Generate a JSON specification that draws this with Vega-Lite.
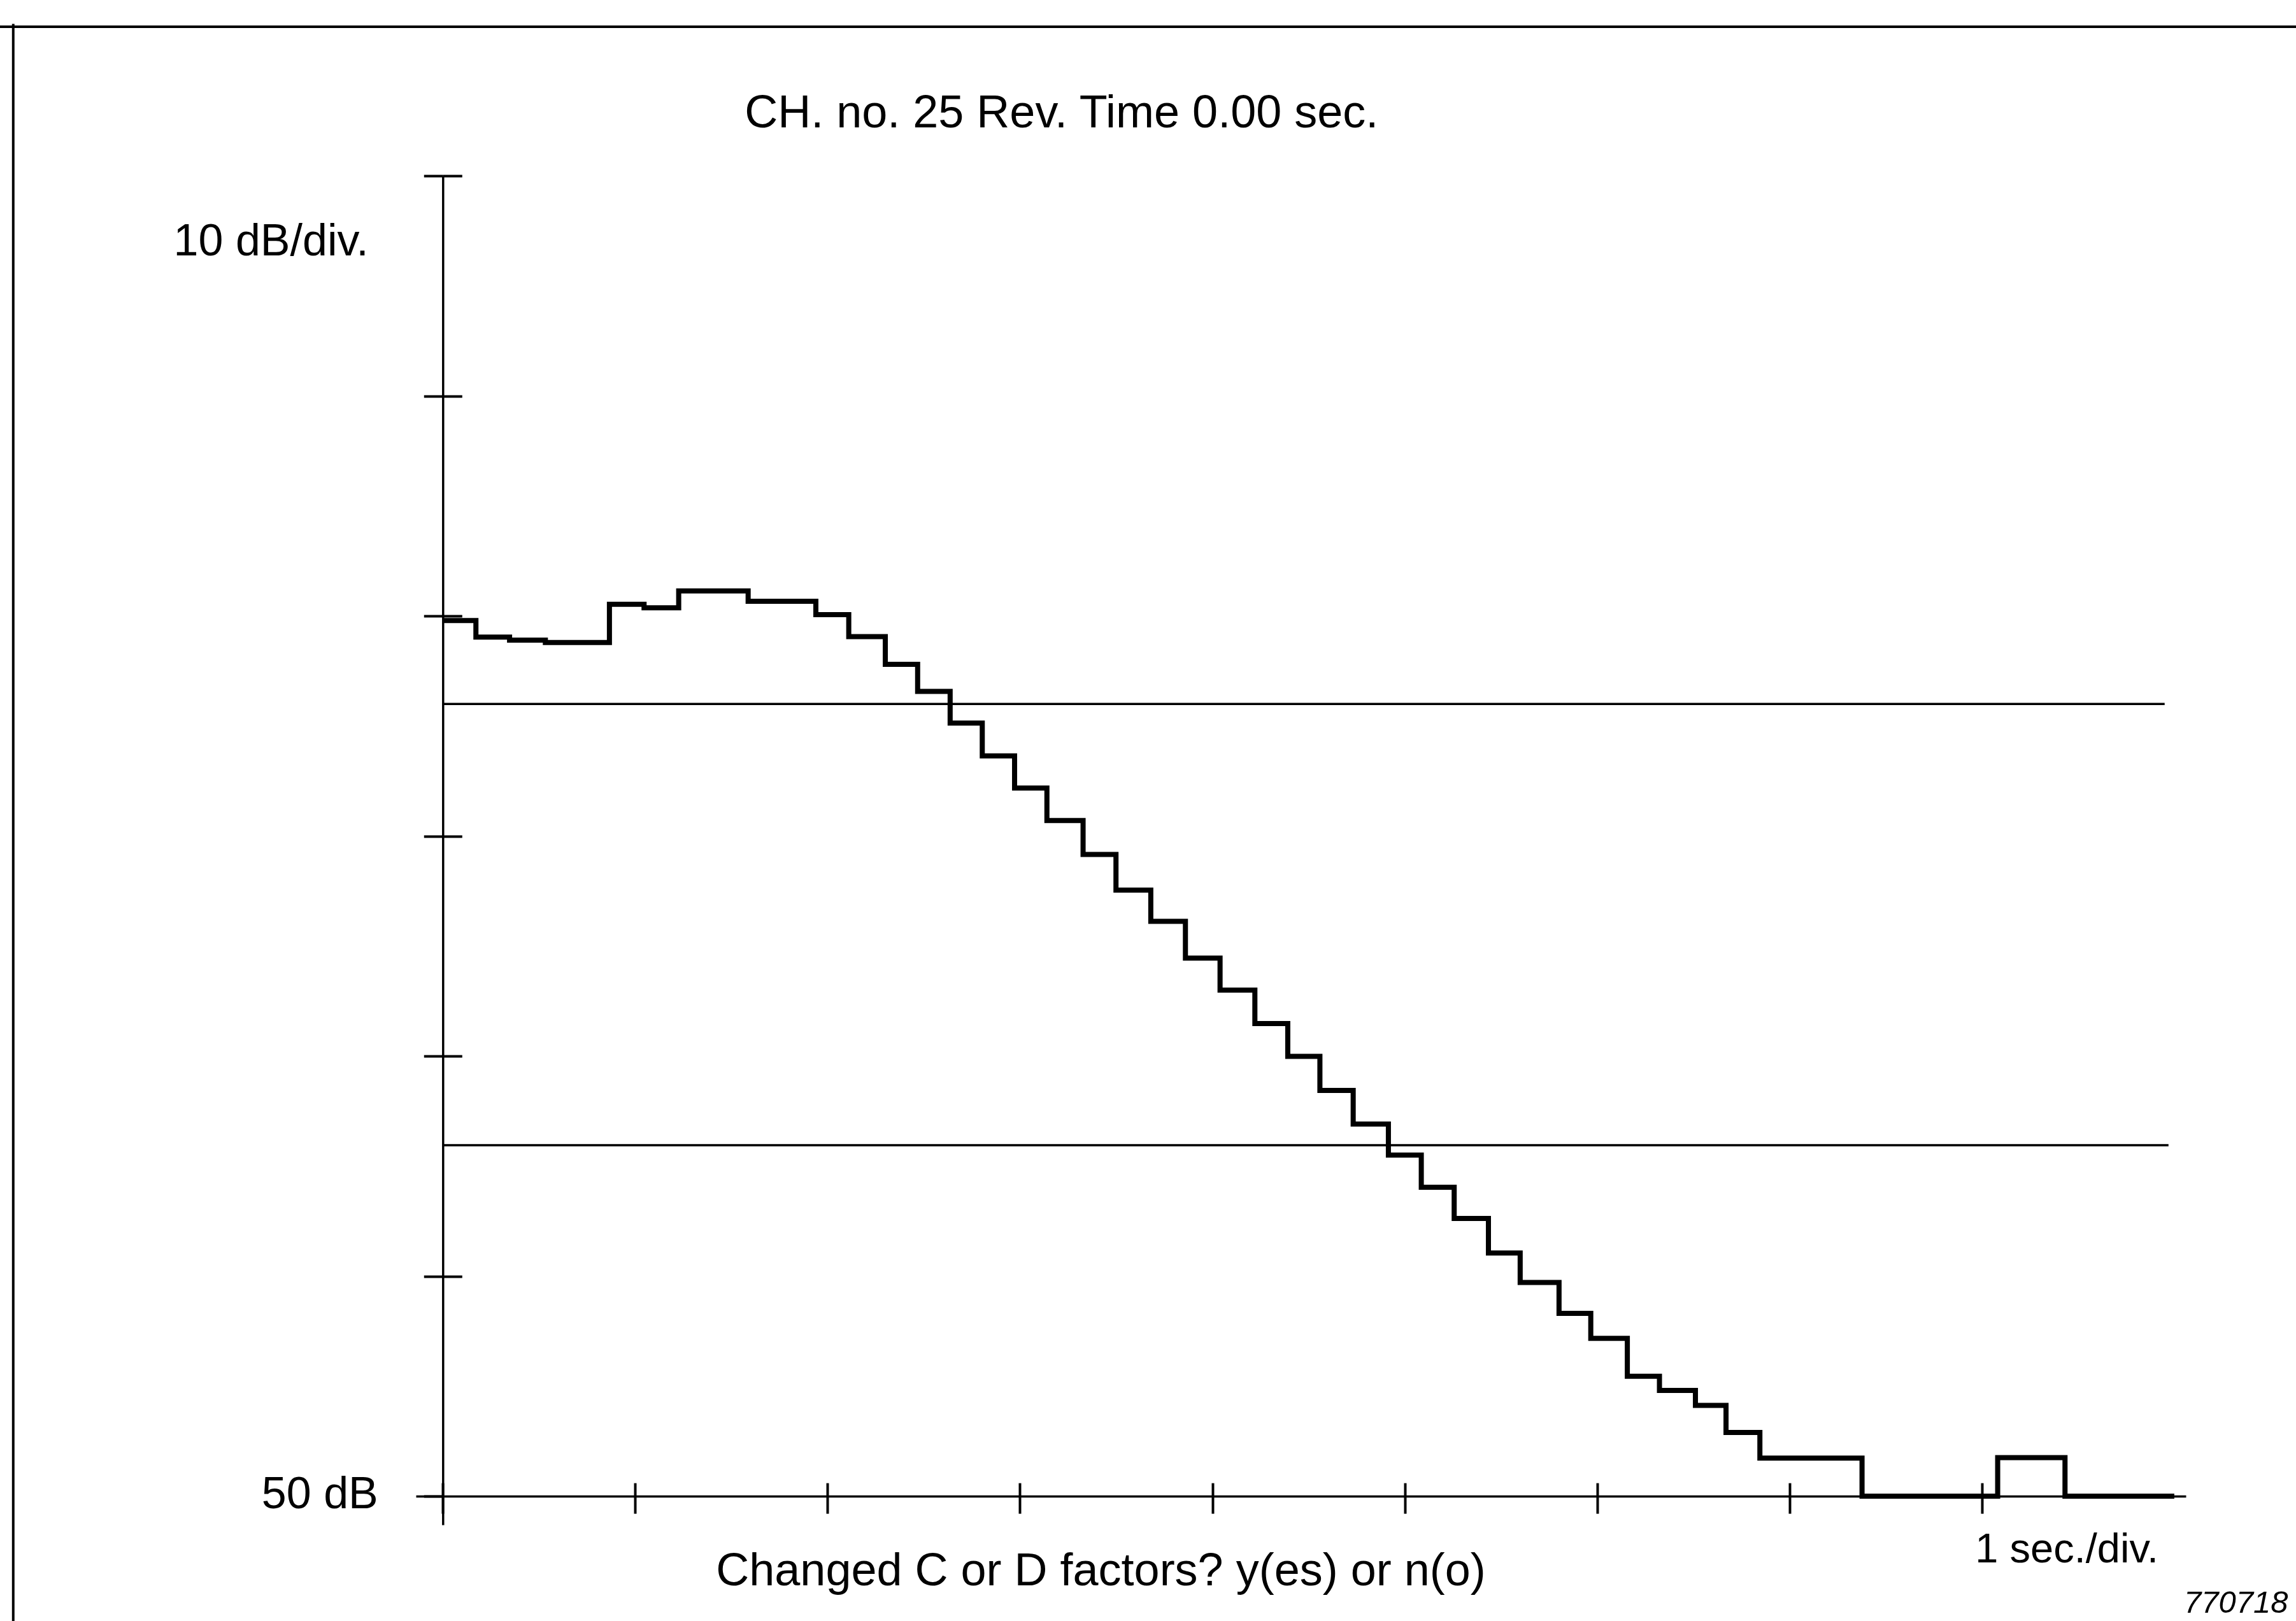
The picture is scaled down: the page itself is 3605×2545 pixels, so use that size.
{
  "$schema": "https://vega.github.io/schema/vega-lite/v6.json",
  "width": 2779,
  "height": 2118,
  "autosize": {"type": "none"},
  "padding": {"left": 653, "top": 276, "right": 173, "bottom": 151},
  "background": "white",
  "config": {"view": {"stroke": null}, "font": "Liberation Sans"},
  "resolve": {"axis": {"x": "independent", "y": "independent"}},
  "encoding": {
    "x": {"field": "t", "type": "quantitative", "scale": {"domain": [-0.14, 9.06], "nice": false, "zero": false}, "axis": null},
    "y": {"field": "L", "type": "quantitative", "scale": {"domain": [-1.3, 60], "nice": false, "zero": false}, "axis": null}
  },
  "layer": [
    {
      "data": {"values": [
        {"t": -2.31, "t2": 9.65, "L": 66.77, "L2": 66.77},
        {"t": -2.233, "t2": -2.233, "L": 66.9, "L2": -5.8}
      ]},
      "mark": {"type": "rule", "color": "black", "strokeWidth": 4},
      "encoding": {"x2": {"field": "t2"}, "y2": {"field": "L2"}}
    },
    {
      "data": {"values": [
        {"t": 0, "t2": 8.95, "L": 36.0},
        {"t": 0, "t2": 8.97, "L": 15.95}
      ]},
      "mark": {"type": "rule", "color": "black", "strokeWidth": 3.5},
      "encoding": {
        "x": {
          "field": "t", "type": "quantitative",
          "scale": {"domain": [-0.14, 9.06], "nice": false, "zero": false},
          "axis": {
            "orient": "bottom", "offset": -44.9, "values": [0, 1, 2, 3, 4, 5, 6, 7, 8],
            "grid": false, "domain": false, "labels": false, "title": null,
            "tickColor": "black", "tickSize": -21, "tickWidth": 4
          }
        },
        "y": {
          "field": "L", "type": "quantitative",
          "scale": {"domain": [-1.3, 60], "nice": false, "zero": false},
          "axis": {
            "orient": "left", "offset": -42.3, "values": [10, 20, 30, 40, 50, 60],
            "grid": false, "domain": false, "labels": false, "title": null,
            "tickColor": "black", "tickSize": -30, "tickWidth": 4
          }
        },
        "x2": {"field": "t2"}
      }
    },
    {
      "data": {"values": [
        {"t": 0, "L": 39.79},
        {"t": 0.172, "L": 39.04},
        {"t": 0.347, "L": 38.9},
        {"t": 0.533, "L": 38.79},
        {"t": 0.866, "L": 40.53},
        {"t": 1.046, "L": 40.37},
        {"t": 1.226, "L": 41.14},
        {"t": 1.587, "L": 40.67},
        {"t": 1.939, "L": 40.06},
        {"t": 2.11, "L": 39.06},
        {"t": 2.3, "L": 37.8},
        {"t": 2.468, "L": 36.57},
        {"t": 2.637, "L": 35.13},
        {"t": 2.804, "L": 33.64},
        {"t": 2.972, "L": 32.18},
        {"t": 3.14, "L": 30.7},
        {"t": 3.328, "L": 29.16},
        {"t": 3.499, "L": 27.54},
        {"t": 3.68, "L": 26.12},
        {"t": 3.86, "L": 24.45},
        {"t": 4.04, "L": 23.0},
        {"t": 4.221, "L": 21.48},
        {"t": 4.392, "L": 19.99},
        {"t": 4.559, "L": 18.44},
        {"t": 4.732, "L": 16.91},
        {"t": 4.915, "L": 15.5},
        {"t": 5.086, "L": 14.04},
        {"t": 5.257, "L": 12.62},
        {"t": 5.435, "L": 11.05},
        {"t": 5.6, "L": 9.71},
        {"t": 5.802, "L": 8.31},
        {"t": 5.967, "L": 7.17},
        {"t": 6.157, "L": 5.45},
        {"t": 6.324, "L": 4.81},
        {"t": 6.511, "L": 4.13},
        {"t": 6.67, "L": 2.9},
        {"t": 6.846, "L": 1.73},
        {"t": 7.377, "L": 0},
        {"t": 8.082, "L": 1.75},
        {"t": 8.432, "L": 0},
        {"t": 9.0, "L": 0}
      ]},
      "mark": {"type": "line", "interpolate": "step-after", "color": "black", "strokeWidth": 8},
      "encoding": {
        "x": {
          "field": "t", "type": "quantitative",
          "scale": {"domain": [-0.14, 9.06], "nice": false, "zero": false},
          "axis": {
            "orient": "bottom", "offset": -44.9, "values": [0, 1, 2, 3, 4, 5, 6, 7, 8],
            "grid": false,
            "domainColor": "black", "domainWidth": 3.5,
            "tickColor": "black", "tickSize": 27, "tickWidth": 4,
            "labelExpr": "datum.value == 8 ? '1 sec./div.' : ''",
            "labelAlign": "left", "labelOffset": -11, "labelBaseline": "alphabetic",
            "labelPadding": 76, "labelFontSize": 65, "labelColor": "black", "labelLimit": 0,
            "labelFont": "Liberation Sans", "labelOverlap": false, "labelFlush": false,
            "title": "Changed C or D factors?  y(es) or n(o)",
            "titleX": 1075, "titleY": 139, "titleAlign": "center", "titleBaseline": "alphabetic",
            "titleFontSize": 72, "titleFontWeight": "normal", "titleColor": "black",
            "titleFont": "Liberation Sans", "titleLimit": 0
          }
        },
        "y": {
          "field": "L", "type": "quantitative",
          "scale": {"domain": [-1.3, 60], "nice": false, "zero": false},
          "axis": {
            "orient": "left", "offset": -42.3, "values": [0, 10, 20, 30, 40, 50, 60],
            "grid": false,
            "domainColor": "black", "domainWidth": 3.5,
            "tickColor": "black", "tickSize": 30, "tickWidth": 4,
            "labelExpr": "datum.value == 0 ? '50 dB' : ''",
            "labelAlign": "right", "labelBaseline": "alphabetic", "labelOffset": 18,
            "labelPadding": 72, "labelFontSize": 70, "labelColor": "black", "labelLimit": 0,
            "labelFont": "Liberation Sans", "labelOverlap": false, "labelFlush": false,
            "title": null
          }
        }
      }
    },
    {
      "data": {"values": [{"t": 3.216, "L": 62.2, "label": "CH. no. 25 Rev. Time 0.00 sec."}]},
      "mark": {"type": "text", "align": "center", "baseline": "alphabetic", "fontSize": 72, "color": "black", "font": "Liberation Sans"},
      "encoding": {"text": {"field": "label"}}
    },
    {
      "data": {"values": [{"t": -0.386, "L": 56.38, "label": "10 dB/div."}]},
      "mark": {"type": "text", "align": "right", "baseline": "alphabetic", "fontSize": 70, "color": "black", "font": "Liberation Sans"},
      "encoding": {"text": {"field": "label"}}
    },
    {
      "data": {"values": [{"t": 9.05, "L": -5.29, "label": "770718"}]},
      "mark": {"type": "text", "align": "left", "baseline": "alphabetic", "fontSize": 49, "fontStyle": "italic", "color": "black", "font": "Liberation Sans"},
      "encoding": {"text": {"field": "label"}}
    }
  ]
}
